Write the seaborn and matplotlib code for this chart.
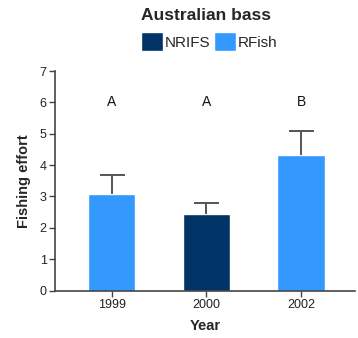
import matplotlib
matplotlib.use("Agg")
import matplotlib.pyplot as plt
import seaborn as sns
import pandas as pd
from matplotlib.patches import Patch

years = ["1999", "2000", "2002"]
survey = ["RFish", "NRIFS", "RFish"]
effort = [3.08, 2.45, 4.31]
effort_se = [0.61, 0.34, 0.79]
group_letters = ["A", "A", "B"]

palette = {"NRIFS": "#003366", "RFish": "#3399FF"}

sns.set_theme(style="ticks")
plt.rcParams["font.family"] = ["Liberation Sans", "DejaVu Sans"]

df = pd.DataFrame({"Year": years, "Survey": survey, "Effort": effort})

fig = plt.figure(figsize=(3.58, 3.38), dpi=100)
ax = fig.add_axes([0.1536, 0.1405, 0.838, 0.649])

sns.barplot(data=df, x="Year", y="Effort", hue="Survey", order=years,
            palette=palette, dodge=False, width=0.5, errorbar=None,
            legend=False, ax=ax, saturation=1)

# upper-only error bars (hide the lower cap)
for i, (v, e) in enumerate(zip(effort, effort_se)):
    _, caps, _ = ax.errorbar(i, v, yerr=[[0], [e]], fmt="none", ecolor="#555555",
                             elinewidth=1.4, capsize=9, capthick=1.4, zorder=1)
    caps[0].set_visible(False)

for i, lab in enumerate(group_letters):
    ax.text(i, 6.0, lab, ha="center", va="center", fontsize=10, color="#111111")

ax.set_xlim(-0.6, 2.57)
ax.set_ylim(0, 7)
ax.set_yticks(range(0, 8))
ax.tick_params(axis="both", labelsize=9, length=4, width=1, color="#444444",
               labelcolor="#222222", pad=2)
ax.set_xlabel("Year", fontsize=10.5, fontweight="bold", labelpad=6)
ax.set_ylabel("Fishing effort", fontsize=10.5, fontweight="bold", labelpad=6)
for side in ("top", "right"):
    ax.spines[side].set_visible(False)
for side in ("left", "bottom"):
    ax.spines[side].set_color("#444444")
    ax.spines[side].set_linewidth(1.2)

fig.text(0.575, 1 - 16 / 338, "Australian bass", ha="center", va="center",
         fontsize=12.5, fontweight="bold")
handles = [Patch(facecolor=palette[k], label=k) for k in ["NRIFS", "RFish"]]
fig.legend(handles=handles, loc="center", bbox_to_anchor=(0.585, 1 - 41.5 / 338),
           ncol=2, frameon=False, fontsize=11, handlelength=1.45, handleheight=1.45,
           handletextpad=0.1, columnspacing=0.25, borderpad=0)

fig.savefig("out.png", dpi=100)
